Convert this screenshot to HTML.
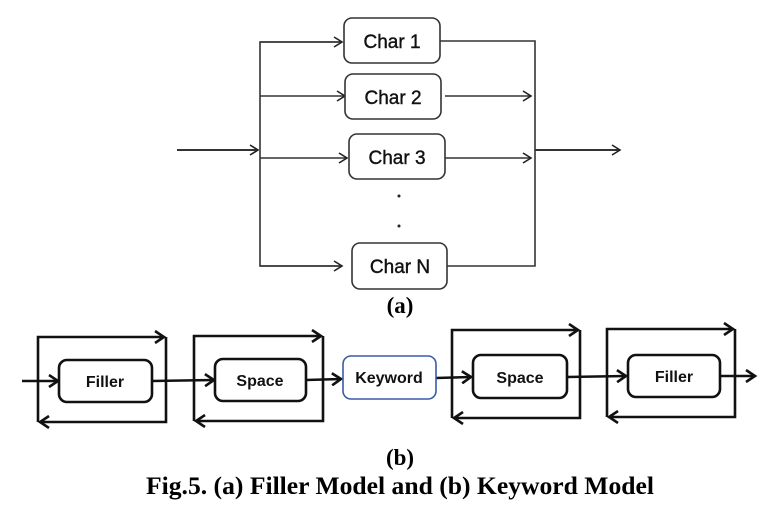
<!DOCTYPE html>
<html><head><style>
body{margin:0;background:#fff;width:782px;height:516px;overflow:hidden}
svg{display:block}
.t{font-family:"Liberation Sans",sans-serif;font-size:19px;fill:#111;stroke:#111;stroke-width:0.4}
.b{font-family:"Liberation Sans",sans-serif;font-weight:bold;font-size:16px;fill:#111}
.c{font-family:"Liberation Serif",serif;font-weight:bold;fill:#000}
</style></head><body>
<svg width="782" height="516" viewBox="0 0 782 516">
<defs>
<marker id="a" markerWidth="12" markerHeight="12" refX="10" refY="6" orient="auto" markerUnits="userSpaceOnUse">
<path d="M2,1 L10,6 L2,11" fill="none" stroke="#222" stroke-width="1.6"/></marker>
<marker id="b" markerWidth="14" markerHeight="14" refX="11" refY="7" orient="auto" markerUnits="userSpaceOnUse">
<path d="M2,1 L11,7 L2,13" fill="none" stroke="#111" stroke-width="2.6"/></marker>
</defs>
<g stroke="#333" stroke-width="1.6" fill="none">
<line x1="177" y1="150" x2="258" y2="150" marker-end="url(#a)" stroke-width="2"/>
<polyline points="342,42 260,42 260,266 342,266"/>
<line x1="260" y1="42" x2="342" y2="42" marker-end="url(#a)"/>
<line x1="260" y1="266" x2="342" y2="266" marker-end="url(#a)"/>
<line x1="260" y1="96" x2="345" y2="96" marker-end="url(#a)"/>
<line x1="260" y1="158" x2="347" y2="158" marker-end="url(#a)"/>
<polyline points="437,41 535,41 535,266 447,266"/>
<line x1="445" y1="96" x2="531" y2="96" marker-end="url(#a)"/>
<line x1="445" y1="158" x2="531" y2="158" marker-end="url(#a)"/>
<line x1="535" y1="150" x2="620" y2="150" marker-end="url(#a)" stroke-width="2"/>
<rect x="344" y="18" width="96" height="45" rx="8" fill="#fff"/>
<rect x="345" y="74" width="96" height="45" rx="8" fill="#fff"/>
<rect x="349" y="134" width="96" height="45" rx="8" fill="#fff"/>
<rect x="352" y="243" width="95" height="46" rx="8" fill="#fff"/>
</g>
<text class="t" x="392" y="48" text-anchor="middle">Char 1</text>
<text class="t" x="393" y="104" text-anchor="middle">Char 2</text>
<text class="t" x="397" y="164" text-anchor="middle">Char 3</text>
<text class="t" x="400" y="273" text-anchor="middle">Char N</text>
<circle cx="399" cy="196" r="1.5" fill="#222"/><circle cx="399" cy="226" r="1.5" fill="#222"/>
<text class="c" x="400" y="313" text-anchor="middle" font-size="23">(a)</text>

<g stroke="#111" stroke-width="2.6" fill="none">
<polyline points="38,422 38,337 164,337" marker-end="url(#b)"/><polyline points="166,337 166,422 40,422" marker-end="url(#b)"/>
<polyline points="194,421 194,336 321,336" marker-end="url(#b)"/><polyline points="323,336 323,421 196,421" marker-end="url(#b)"/>
<polyline points="452,418 452,330 578,330" marker-end="url(#b)"/><polyline points="580,330 580,418 454,418" marker-end="url(#b)"/>
<polyline points="607,417 607,329 733,329" marker-end="url(#b)"/><polyline points="735,329 735,417 609,417" marker-end="url(#b)"/>
<line x1="22" y1="381" x2="58" y2="381" marker-end="url(#b)"/>
<line x1="152" y1="381" x2="214" y2="380" marker-end="url(#b)"/>
<line x1="306" y1="380" x2="341" y2="379" marker-end="url(#b)"/>
<line x1="436" y1="378" x2="471" y2="377" marker-end="url(#b)"/>
<line x1="567" y1="377" x2="626" y2="376" marker-end="url(#b)"/>
<line x1="720" y1="376" x2="755" y2="376" marker-end="url(#b)"/>
<rect x="59" y="360" width="93" height="42" rx="8" fill="#fff"/>
<rect x="215" y="359" width="91" height="42" rx="8" fill="#fff"/>
<rect x="473" y="355" width="94" height="43" rx="8" fill="#fff"/>
<rect x="628" y="355" width="92" height="42" rx="8" fill="#fff"/>
</g>
<rect x="343" y="356" width="93" height="43" rx="8" fill="#fff" stroke="#3a5aa8" stroke-width="1.6"/>
<text class="b" x="105" y="387" text-anchor="middle" font-size="17">Filler</text>
<text class="b" x="260" y="386" text-anchor="middle" font-size="17">Space</text>
<text class="b" x="389" y="383" text-anchor="middle" font-size="14">Keyword</text>
<text class="b" x="520" y="383" text-anchor="middle" font-size="17">Space</text>
<text class="b" x="674" y="382" text-anchor="middle" font-size="17">Filler</text>
<text class="c" x="400" y="465" text-anchor="middle" font-size="23">(b)</text>
<text class="c" x="400" y="494" text-anchor="middle" font-size="25" textLength="508" lengthAdjust="spacingAndGlyphs">Fig.5. (a) Filler Model and (b) Keyword Model</text>
</svg>
</body></html>
